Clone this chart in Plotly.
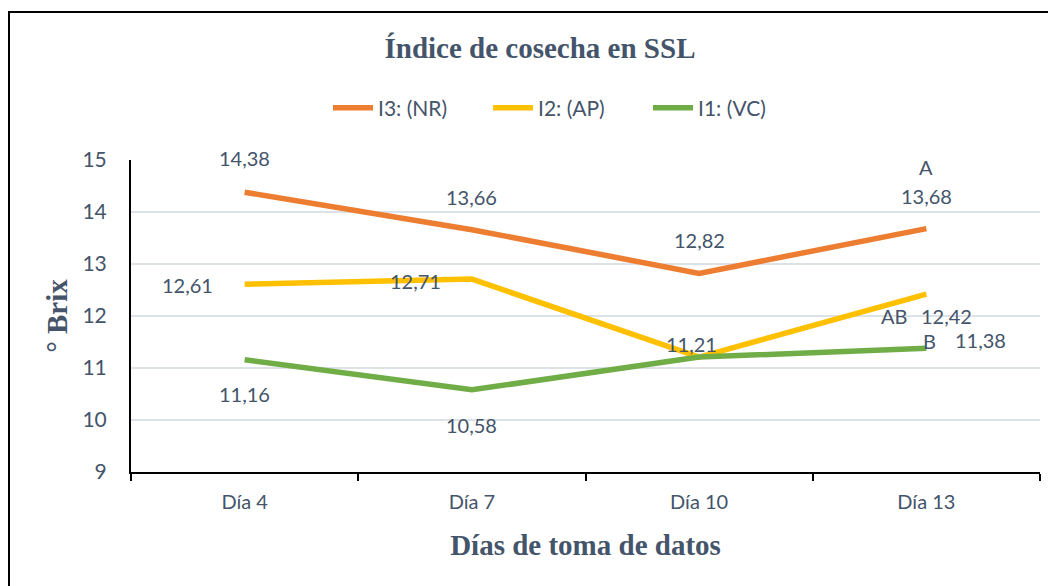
import plotly.graph_objects as go

categories = ["Día 4", "Día 7", "Día 10", "Día 13"]
series_names = ["I3: (NR)", "I2: (AP)", "I1: (VC)"]
i3_values = [14.38, 13.66, 12.82, 13.68]
i2_values = [12.61, 12.71, 11.21, 12.42]
i1_values = [11.16, 10.58, 11.21, 11.38]
i3_letters = ["", "", "", "A"]
i2_letters = ["", "", "", "AB"]
i1_letters = ["", "", "", "B"]
y_ticks = [9, 10, 11, 12, 13, 14, 15]

colors = ["#ED7D31", "#FFC000", "#70AD47"]
TXT = "#44546A"
SANS = "Lato, 'Open Sans', sans-serif"
SERIF = "'Liberation Serif', 'Times New Roman', serif"

# label offsets (pixels) per series/point: (xshift, yshift, show)
val_offsets = [
    [(0, 34, True), (0, 33, True), (0, 33, True), (0, 33, True)],
    [(-57, -1, True), (-56, -2, True), (-8, 13, True), (20, -22, True)],
    [(0, -34, True), (0, -35, True), (0, 0, False), (54, 8, True)],
]
letter_offsets = [
    [None, None, None, (0, 62)],
    [None, None, None, (-32, -22)],
    [None, None, None, (3, 7)],
]

all_values = [i3_values, i2_values, i1_values]
all_letters = [i3_letters, i2_letters, i1_letters]

fig = go.Figure()
for name, vals, col in zip(series_names, all_values, colors):
    fig.add_trace(go.Scatter(
        x=categories, y=vals, name=name, mode="lines",
        line=dict(color=col, width=5.5),
    ))

annotations = []
for s, vals in enumerate(all_values):
    for i, v in enumerate(vals):
        xs, ys, show = val_offsets[s][i]
        if show:
            annotations.append(dict(
                x=categories[i], y=v, xref="x", yref="y",
                text=f"{v:.2f}".replace(".", ","), showarrow=False,
                xshift=xs, yshift=ys,
                font=dict(family=SANS, size=20, color=TXT),
            ))
        lt = all_letters[s][i]
        if lt:
            lx, ly = letter_offsets[s][i]
            annotations.append(dict(
                x=categories[i], y=v, xref="x", yref="y",
                text=lt, showarrow=False, xshift=lx, yshift=ly,
                font=dict(family=SANS, size=20, color=TXT),
            ))

W, H = 1056, 586
OFF = 8  # page body margin offset
L, R, T, B = 131 - OFF, 16 + OFF, 160 - OFF, 114 + OFF
pw, ph = W - L - R, H - T - B

fig.update_layout(
    width=W, height=H,
    margin=dict(l=L, r=R, t=T, b=B, autoexpand=False),
    paper_bgcolor="white", plot_bgcolor="white",
    title=dict(text="<b>Índice de cosecha en SSL</b>", x=(540 - OFF) / W, xanchor="center",
               y=1 - (48 - OFF) / H, yanchor="middle",
               font=dict(family=SERIF, size=29, color=TXT)),
    legend=dict(orientation="h", x=(568 - OFF - L) / pw, xanchor="center",
                y=(H - B - (108 - OFF)) / ph, yanchor="middle",
                font=dict(family=SANS, size=21, color=TXT),
                itemwidth=40, entrywidth=105, tracegroupgap=0),
    annotations=annotations,
    shapes=[dict(type="rect", xref="paper", yref="paper",
                 x0=(9 - OFF - L) / pw, x1=(W + 10 - L) / pw,
                 y0=(H - B - (H + 10)) / ph, y1=(H - B - (12 - OFF)) / ph,
                 line=dict(color="black", width=2), fillcolor="rgba(0,0,0,0)",
                 layer="below")],
    showlegend=True,
)

fig.update_xaxes(
    type="category", range=[-0.5, 3.5], tickson="boundaries", automargin=False,
    ticks="outside", ticklen=7, tickcolor="black", tickwidth=1.5,
    showline=True, linecolor="black", linewidth=2, showgrid=False,
    tickfont=dict(family=SANS, size=20, color=TXT), ticklabelstandoff=11,
    title=dict(text="<b>Días de toma de datos</b>", standoff=23,
               font=dict(family=SERIF, size=29, color=TXT)),
)
fig.update_yaxes(
    range=[9, 15], tickvals=y_ticks, ticks="", automargin=False,
    showline=True, linecolor="black", linewidth=2,
    showgrid=True, gridcolor="#DDE2E8", gridwidth=1.5, zeroline=False,
    tickfont=dict(family=SANS, size=21, color=TXT), ticklabelstandoff=18,
    title=dict(text="<b>° Brix</b>", standoff=6,
               font=dict(family=SERIF, size=29, color=TXT)),
)

fig.write_html("out.html")
